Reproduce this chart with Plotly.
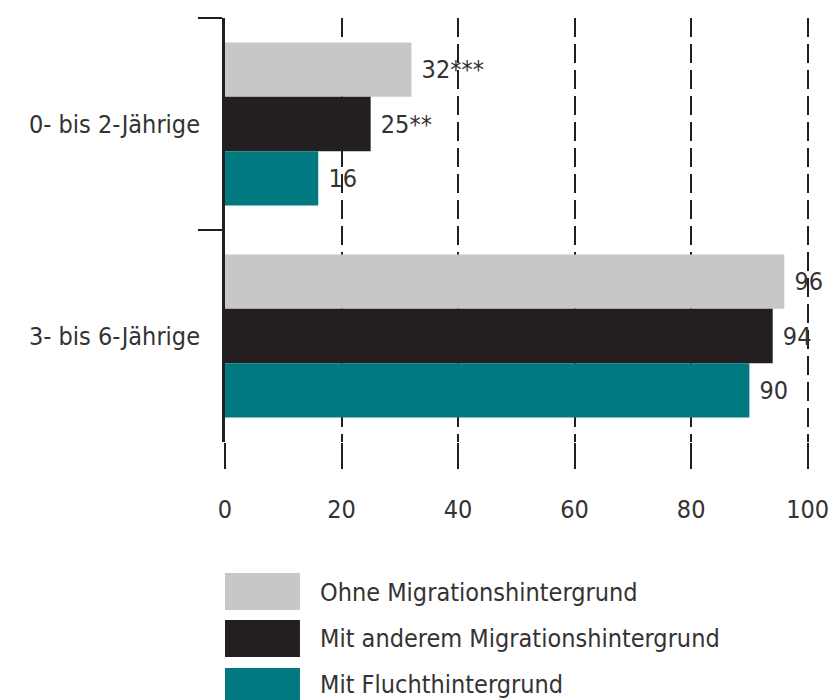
import plotly.graph_objects as go

categories = ["0- bis 2-Jährige", "3- bis 6-Jährige"]
series_names = ["Ohne Migrationshintergrund", "Mit anderem Migrationshintergrund", "Mit Fluchthintergrund"]
values_ohne = [32, 96]
values_andere = [25, 94]
values_flucht = [16, 90]
labels_ohne = ["32***", "96"]
labels_andere = ["25**", "94"]
labels_flucht = ["16", "90"]
x_ticks = [0, 20, 40, 60, 80, 100]

colors = ["#c6c7c9", "#231f20", "#007a80"]
FONT = "DejaVu Sans Condensed, DejaVu Sans, sans-serif"
TXT = "#333333"
FS = 25

XMAX = 100.4
W, H = 829, 700
L, T, B = 225, 18, 442
R = L + 583 * XMAX / 100

fig = go.Figure()
for name, vals, labs, col in zip(series_names,
                                 [values_ohne, values_andere, values_flucht],
                                 [labels_ohne, labels_andere, labels_flucht],
                                 colors):
    fig.add_trace(go.Bar(
        y=categories, x=vals, orientation="h", name=name,
        marker=dict(color=col, line=dict(width=0)),
        text=["\u00a0" + t for t in labs], textposition="outside",
        textfont=dict(family=FONT, size=FS, color=TXT),
        constraintext="none", cliponaxis=False, showlegend=False,
        hoverinfo="skip",
    ))

fig.update_layout(
    width=W, height=H,
    margin=dict(l=L, r=W - R, t=T, b=H - B, pad=0, autoexpand=False),
    paper_bgcolor="white", plot_bgcolor="white",
    barmode="group", bargap=0.23, bargroupgap=0,
    font=dict(family=FONT, size=FS, color=TXT),
    xaxis=dict(
        range=[0, XMAX], tickvals=x_ticks, ticktext=[str(v) for v in x_ticks],
        showgrid=True, gridcolor="#231f20", gridwidth=2, griddash="19px,7px",
        zeroline=False, showline=False, automargin=False,
        ticks="outside", ticklen=26, tickwidth=2, tickcolor="#231f20",
        ticklabelstandoff=19, ticklabeloverflow="allow",
        tickfont=dict(family=FONT, size=FS, color=TXT),
        fixedrange=True,
    ),
    yaxis=dict(
        type="category", categoryorder="array", categoryarray=categories,
        autorange="reversed", automargin=False,
        showgrid=False, zeroline=False,
        showline=True, linecolor="#231f20", linewidth=3,
        ticks="outside", tickson="boundaries", ticklen=24, tickwidth=2,
        tickcolor="#231f20", ticklabelstandoff=17,
        tickfont=dict(family=FONT, size=FS, color=TXT),
        fixedrange=True,
    ),
)

# legend drawn manually (large swatches); pixel -> paper coords
def py(p):
    return (B - p) / (B - T)

def px(p):
    return (p - L) / (R - L)

legend_rows = [(573, 610), (620, 657), (668, 705)]
legend_text_y = [592, 638, 684]
for name, col, (y0, y1), ty in zip(series_names, colors, legend_rows, legend_text_y):
    fig.add_shape(type="rect", xref="paper", yref="paper",
                  x0=px(225), x1=px(300), y0=py(y1), y1=py(y0),
                  fillcolor=col, line=dict(width=0))
    fig.add_annotation(xref="paper", yref="paper", x=px(318), y=py(ty),
                       text=name, showarrow=False, xanchor="left", yanchor="middle",
                       font=dict(family=FONT, size=FS, color=TXT))

fig.write_html(
    "out.html",
    config={"displayModeBar": False, "staticPlot": True},
    post_script="document.body.style.margin='0';document.body.style.overflow='hidden';",
)
